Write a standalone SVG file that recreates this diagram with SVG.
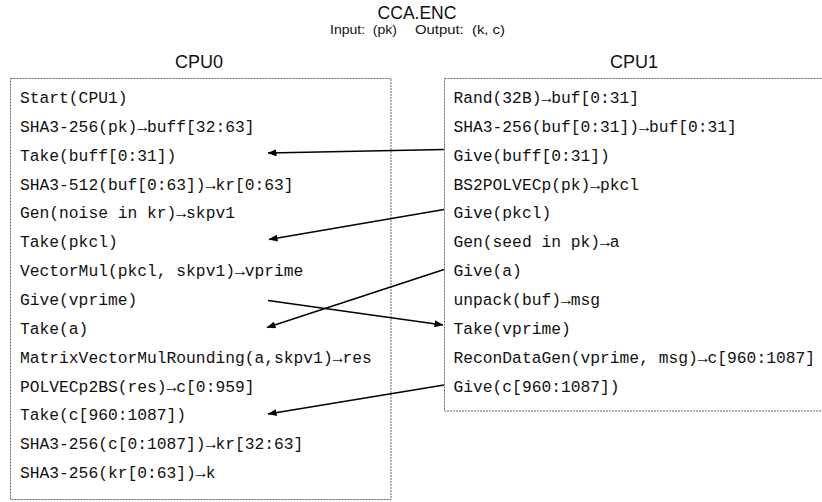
<svg xmlns="http://www.w3.org/2000/svg" width="822" height="502" viewBox="0 0 822 502">
<style>
.bg{fill:#ffffff}
.box{fill:none;stroke:#666;stroke-width:1;stroke-dasharray:2,1}
.title{font-family:"Liberation Sans",Arial,sans-serif;font-size:17.5px;fill:#111;text-anchor:middle}
.sub{font-family:"Liberation Sans",Arial,sans-serif;font-size:12px;fill:#111}
.head{font-family:"Liberation Sans",Arial,sans-serif;font-size:18px;fill:#111;text-anchor:middle}
.code{font-family:"Liberation Mono","DejaVu Sans Mono",monospace;font-size:16.3px;fill:#111}
.conn{fill:none;stroke:#000;stroke-width:1.5}
</style>
<defs>
<marker id="ah" markerUnits="userSpaceOnUse" markerWidth="9" markerHeight="7" refX="8.5" refY="3.5" orient="auto">
<path d="M0,0 L9,3.5 L0,7 z" fill="#000"/>
</marker>
</defs>
<rect class="bg" x="0" y="0" width="822" height="502"/>
<g id="header">
<text class="title" x="417" y="18.5">CCA.ENC</text>
<text class="sub" x="330" y="33.5" textLength="67" lengthAdjust="spacingAndGlyphs" xml:space="preserve">Input:  (pk)</text>
<text class="sub" x="415" y="33.5" textLength="90" lengthAdjust="spacingAndGlyphs" xml:space="preserve">Output:  (k, c)</text>
</g>
<g id="cpu0">
<text class="head" x="199" y="68">CPU0</text>
<rect class="box" x="10.5" y="78.5" width="380.5" height="421"/>
<g id="c0r0"><text class="code" x="20" y="103">Start(CPU1)</text></g>
<g id="c0r1"><text class="code" x="20" y="131.9">SHA3-256(pk)→buff[32:63]</text></g>
<g id="c0r2"><text class="code" x="20" y="160.7">Take(buff[0:31])</text></g>
<g id="c0r3"><text class="code" x="20" y="189.6">SHA3-512(buf[0:63])→kr[0:63]</text></g>
<g id="c0r4"><text class="code" x="20" y="218.4">Gen(noise in kr)→skpv1</text></g>
<g id="c0r5"><text class="code" x="20" y="247.3">Take(pkcl)</text></g>
<g id="c0r6"><text class="code" x="20" y="276.1">VectorMul(pkcl, skpv1)→vprime</text></g>
<g id="c0r7"><text class="code" x="20" y="305">Give(vprime)</text></g>
<g id="c0r8"><text class="code" x="20" y="333.8">Take(a)</text></g>
<g id="c0r9"><text class="code" x="20" y="362.7">MatrixVectorMulRounding(a,skpv1)→res</text></g>
<g id="c0r10"><text class="code" x="20" y="391.5">POLVECp2BS(res)→c[0:959]</text></g>
<g id="c0r11"><text class="code" x="20" y="420.4">Take(c[960:1087])</text></g>
<g id="c0r12"><text class="code" x="20" y="449.2">SHA3-256(c[0:1087])→kr[32:63]</text></g>
<g id="c0r13"><text class="code" x="20" y="478.1">SHA3-256(kr[0:63])→k</text></g>
</g>
<g id="cpu1">
<text class="head" x="634" y="68">CPU1</text>
<rect class="box" x="444.5" y="78.5" width="400" height="332.5"/>
<g id="c1r0"><text class="code" x="453.5" y="103">Rand(32B)→buf[0:31]</text></g>
<g id="c1r1"><text class="code" x="453.5" y="131.9">SHA3-256(buf[0:31])→buf[0:31]</text></g>
<g id="c1r2"><text class="code" x="453.5" y="160.7">Give(buff[0:31])</text></g>
<g id="c1r3"><text class="code" x="453.5" y="189.6">BS2POLVECp(pk)→pkcl</text></g>
<g id="c1r4"><text class="code" x="453.5" y="218.4">Give(pkcl)</text></g>
<g id="c1r5"><text class="code" x="453.5" y="247.3">Gen(seed in pk)→a</text></g>
<g id="c1r6"><text class="code" x="453.5" y="276.1">Give(a)</text></g>
<g id="c1r7"><text class="code" x="453.5" y="305">unpack(buf)→msg</text></g>
<g id="c1r8"><text class="code" x="453.5" y="333.8">Take(vprime)</text></g>
<g id="c1r9"><text class="code" x="453.5" y="362.7">ReconDataGen(vprime, msg)→c[960:1087]</text></g>
<g id="c1r10"><text class="code" x="453.5" y="391.5">Give(c[960:1087])</text></g>
</g>
<g id="connectors">
<line class="conn" x1="444" y1="149.5" x2="268" y2="153" marker-end="url(#ah)"/>
<line class="conn" x1="444" y1="209.5" x2="269" y2="239.5" marker-end="url(#ah)"/>
<line class="conn" x1="444" y1="269.5" x2="267" y2="327.5" marker-end="url(#ah)"/>
<line class="conn" x1="268" y1="300.5" x2="443" y2="325" marker-end="url(#ah)"/>
<line class="conn" x1="444" y1="385" x2="268" y2="414" marker-end="url(#ah)"/>
</g>
</svg>
